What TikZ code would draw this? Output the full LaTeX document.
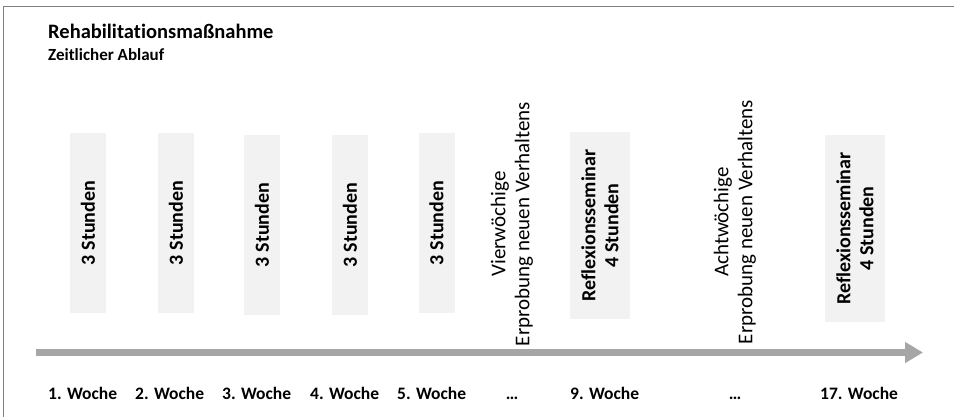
\documentclass[tikz,border=0pt]{standalone}
\usepackage{fontspec}
\setmainfont{Carlito}[Ligatures=NoCommon]
\usetikzlibrary{arrows.meta}
\definecolor{boxgray}{RGB}{242,242,242}
\definecolor{arrowgray}{RGB}{166,166,166}
\definecolor{framegray}{RGB}{128,128,128}
\tikzset{
  shortbox/.style={fill=boxgray, rotate=90, minimum width=180bp, minimum height=36bp, inner sep=0pt,
    font=\bfseries\fontsize{20bp}{24bp}\selectfont},
  reflbox/.style={fill=boxgray, rotate=90, minimum width=187bp, minimum height=60bp, inner sep=0pt, align=center,
    font=\bfseries\fontsize{20bp}{23bp}\selectfont},
  phase/.style={rotate=90, align=center, inner sep=0pt, font=\fontsize{21bp}{24bp}\selectfont},
  week/.style={anchor=base west, inner sep=0pt, font=\bfseries\fontsize{17.5bp}{20bp}\selectfont},
  weekdots/.style={anchor=base, inner sep=0pt, font=\bfseries\fontsize{17.5bp}{20bp}\selectfont},
  timeline/.style={draw=arrowgray, line width=7bp, -{Triangle[length=18bp,width=20bp]}},
  frameline/.style={draw=framegray, line width=1.5bp}
}
\begin{document}
\begin{tikzpicture}[x=1bp,y=-1bp]
\useasboundingbox (0,0) rectangle (954,417);
\coordinate (ftr) at (954,6.5);
\coordinate (ftl) at (3.5,6.5);
\coordinate (fbl) at (3.5,417);
\draw[frameline] (ftr) -- (ftl) -- (fbl);

\node[anchor=base west, inner sep=0pt, font=\bfseries\fontsize{20.5bp}{24bp}\selectfont] (title) at (48,38) {Rehabilitationsmaßnahme};
\node[anchor=base west, inner sep=0pt, font=\bfseries\fontsize{17bp}{20bp}\selectfont] (subtitle) at (48,60.5) {Zeitlicher Ablauf};

\node[shortbox] (b1) at (88,223) {3 Stunden};
\node[shortbox] (b2) at (176,223) {3 Stunden};
\node[shortbox] (b3) at (262,225) {3 Stunden};
\node[shortbox] (b4) at (350,225) {3 Stunden};
\node[shortbox] (b5) at (436.5,223) {3 Stunden};
\node[phase] (p1) at (512,224) {Vierwöchige\\Erprobung neuen Verhaltens};
\node[reflbox] (r1) at (600,225.5) {Reflexionsseminar\\4 Stunden};
\node[phase] (p2) at (735,222) {Achtwöchige\\Erprobung neuen Verhaltens};
\node[reflbox] (r2) at (855,228.5) {Reflexionsseminar\\4 Stunden};

\coordinate (astart) at (36,352.5);
\coordinate (aend) at (923,352.5);
\draw[timeline] (astart) -- (aend);

\node[week] (w1) at (48,399) {1. Woche};
\node[week] (w2) at (135,399) {2. Woche};
\node[week] (w3) at (222,399) {3. Woche};
\node[week] (w4) at (310,399) {4. Woche};
\node[week] (w5) at (397,399) {5. Woche};
\node[weekdots] (d1) at (512,399) {…};
\node[week] (w9) at (570,399) {9. Woche};
\node[weekdots] (d2) at (735,399) {…};
\node[week] (w17) at (820,399) {17. Woche};
\end{tikzpicture}
\end{document}
